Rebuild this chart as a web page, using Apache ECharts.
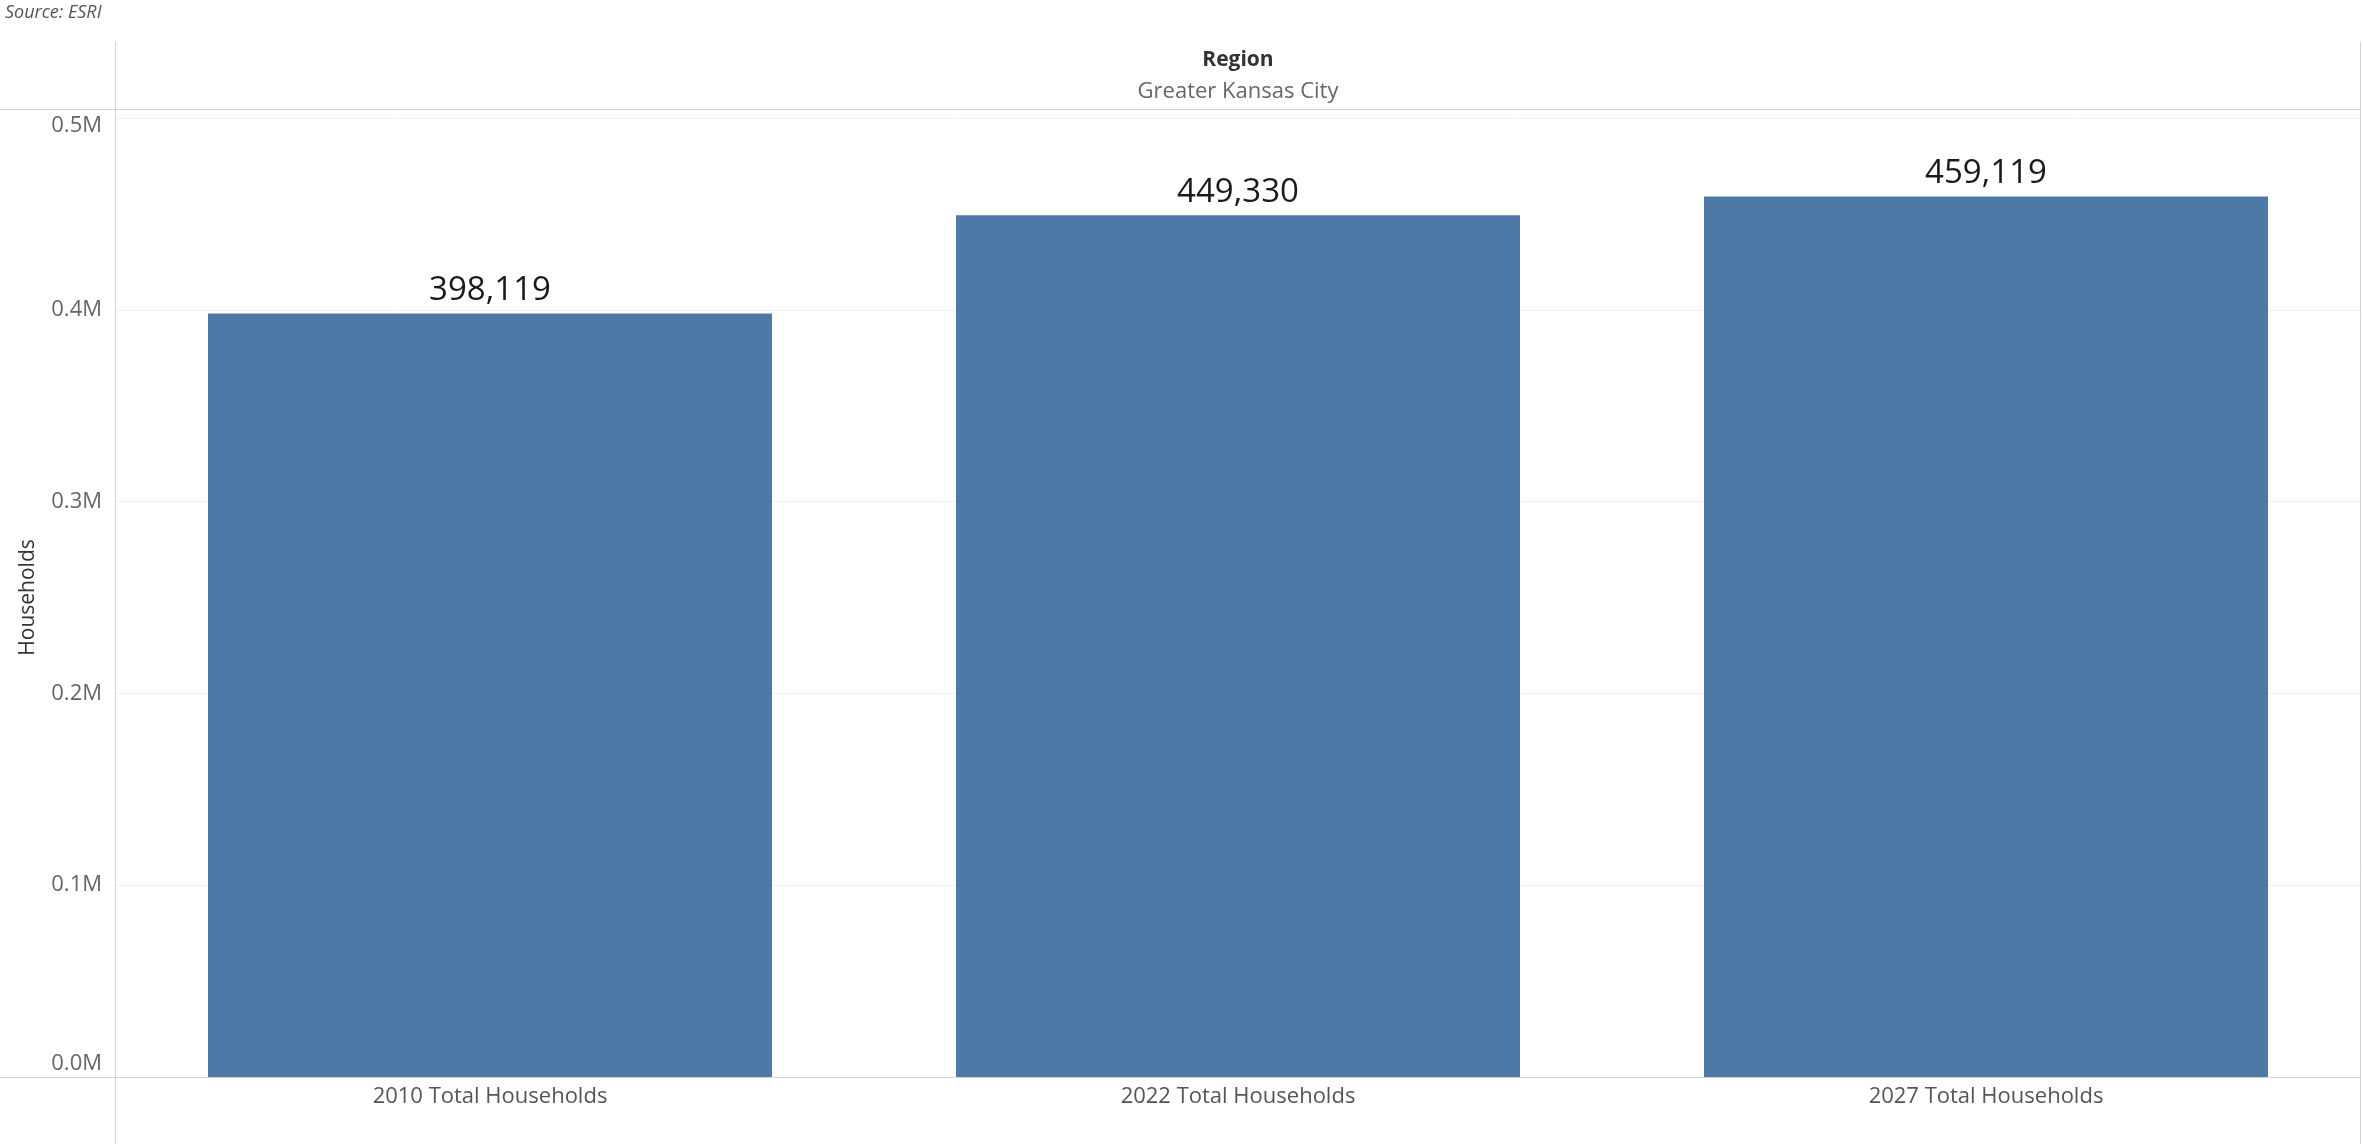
<!DOCTYPE html>
<html>
<head>
<meta charset="utf-8">
<script src="https://cdn.jsdelivr.net/npm/echarts@6/dist/echarts.min.js"></script>
<style>
html,body{margin:0;padding:0;background:#fff;}
#main{width:2363px;height:1144px;}
</style>
</head>
<body>
<div id="main"></div>
<script>
const categories = ['2010 Total Households', '2022 Total Households', '2027 Total Households'];
const households = [398119, 449330, 459119];
const yMin = 0, yMax = 500000, yStep = 100000;
const sourceText = 'Source: ESRI';
const headerTitle = 'Region';
const headerValue = 'Greater Kansas City';
const yAxisTitle = 'Households';

const chart = echarts.init(document.getElementById('main'), null, {renderer: 'canvas'});
const FONT = '"Open Sans", "Noto Sans", sans-serif';
const frame = '#d3d3d3';

const option = {
  backgroundColor: '#ffffff',
  animation: false,
  grid: {left: 116, right: 3, top: 118, bottom: 67, containLabel: false},
  xAxis: {
    type: 'category',
    data: categories,
    axisLine: {show: false},
    axisTick: {show: false},
    axisLabel: {color: '#555', fontFamily: FONT, fontSize: 22, margin: 9}
  },
  yAxis: {
    type: 'value',
    min: yMin, max: yMax, interval: yStep,
    name: yAxisTitle,
    nameLocation: 'middle',
    nameGap: 77,
    nameTextStyle: {color: '#333', fontFamily: FONT, fontSize: 21},
    axisLine: {show: false},
    axisTick: {show: false},
    splitLine: {show: true, lineStyle: {color: '#f0f0f0', width: 1}},
    axisLabel: {
      color: '#666', fontFamily: FONT, fontSize: 22, margin: 14,
      formatter: function (v) {
        const t = (v / 1e6).toFixed(1) + 'M';
        if (v === yMax) return '{top|' + t + '}';
        if (v === yMin) return '{bot|' + t + '}';
        return t;
      },
      rich: {
        top: {color: '#666', fontFamily: FONT, fontSize: 22, padding: [16, 0, 0, 0]},
        bot: {color: '#666', fontFamily: FONT, fontSize: 22, padding: [0, 0, 26, 0]}
      }
    }
  },
  series: [{
    type: 'bar',
    data: households,
    barCategoryGap: '24.6%',
    itemStyle: {color: '#4e79a7'},
    label: {
      show: true,
      position: 'top',
      distance: 6,
      color: '#1a1a1a',
      fontFamily: FONT,
      fontSize: 33,
      formatter: function (p) { return p.value.toLocaleString('en-US'); }
    }
  }],
  graphic: [
    {type: 'text', left: 5, top: 4, style: {text: sourceText, fill: '#555', font: 'italic 18px ' + FONT}},
    {type: 'text', x: 1238, y: 60, style: {text: headerTitle, fill: '#333', font: 'bold 21px ' + FONT, textAlign: 'center', textVerticalAlign: 'middle'}},
    {type: 'text', x: 1238, y: 92, style: {text: headerValue, fill: '#666', font: '22px ' + FONT, textAlign: 'center', textVerticalAlign: 'middle'}},
    {type: 'line', shape: {x1: 0, y1: 109.5, x2: 2360, y2: 109.5}, style: {stroke: frame, lineWidth: 1}, z: 10},
    {type: 'line', shape: {x1: 0, y1: 1077.5, x2: 2360, y2: 1077.5}, style: {stroke: frame, lineWidth: 1}, z: 10},
    {type: 'line', shape: {x1: 115.5, y1: 42, x2: 115.5, y2: 1144}, style: {stroke: frame, lineWidth: 1}, z: 10},
    {type: 'line', shape: {x1: 2360.5, y1: 42, x2: 2360.5, y2: 1144}, style: {stroke: frame, lineWidth: 1}, z: 10}
  ]
};
chart.setOption(option);
</script>
</body>
</html>
